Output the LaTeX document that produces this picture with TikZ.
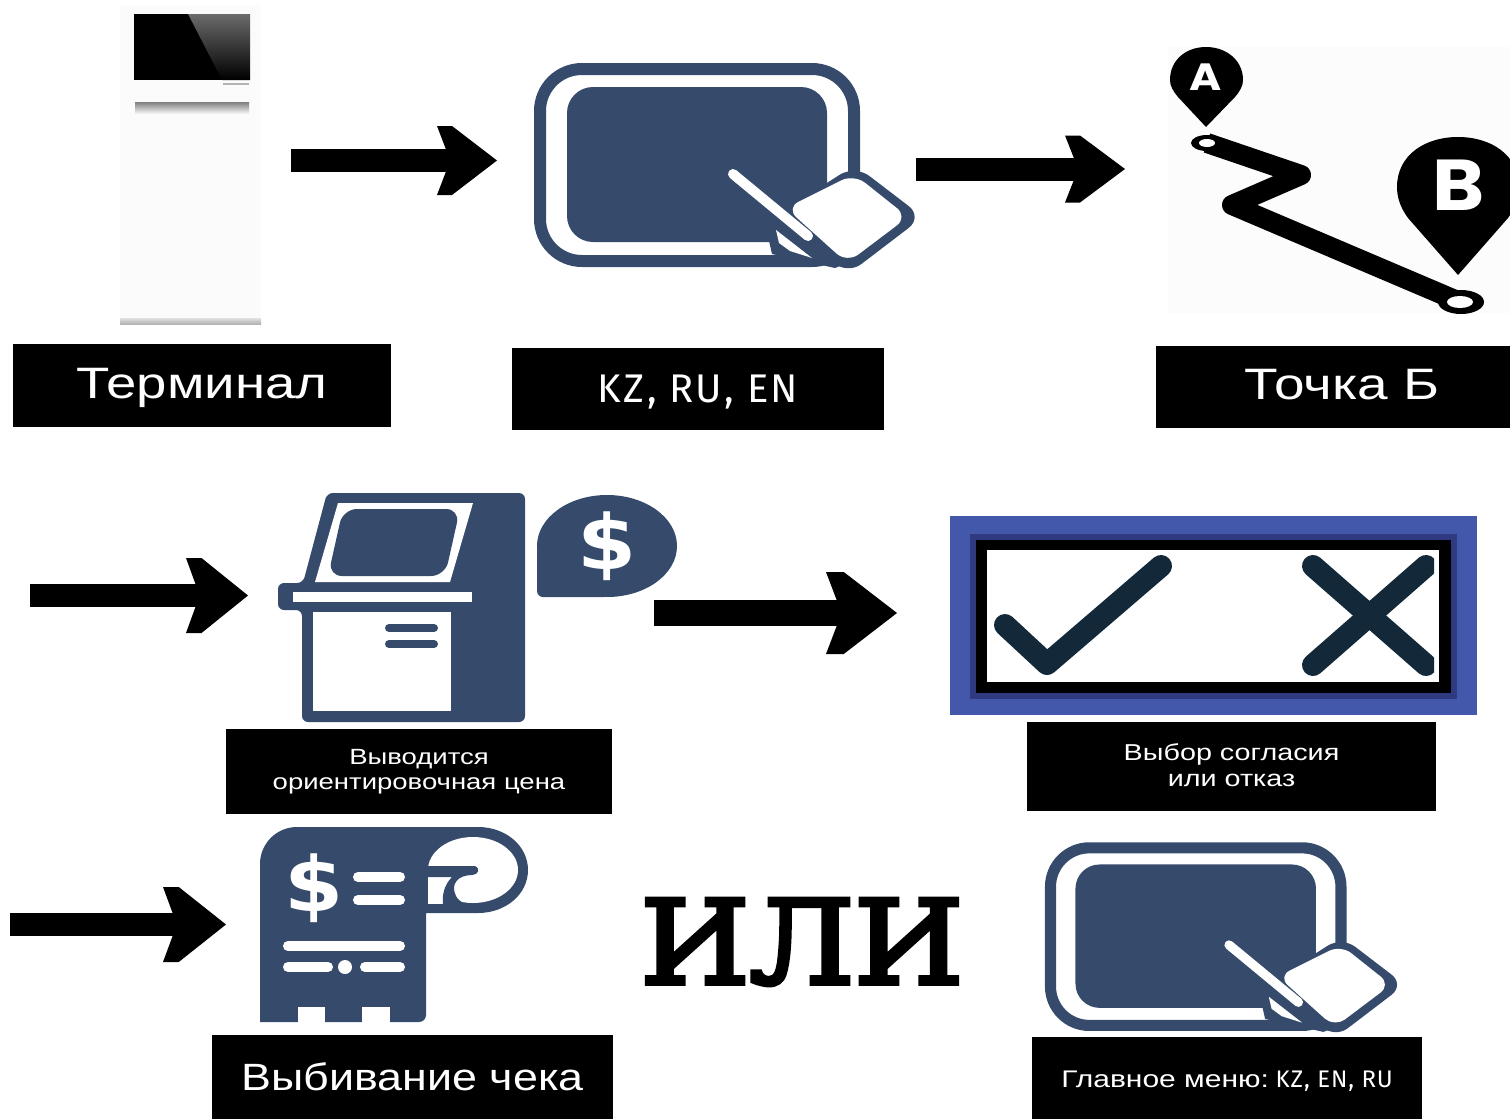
\documentclass[tikz,border=0pt]{standalone}
\usepackage{fontspec}
\usepackage{graphicx}
\setmainfont{Liberation Sans}
\newfontfamily\latinfont[LetterSpace=6]{Fira Sans}
\newfontfamily\latinsmall[LetterSpace=4]{Fira Sans}
\newfontfamily\slabfont[FakeBold=4]{DejaVu Serif}
\newfontfamily\dejabold{DejaVu Sans}
\newfontfamily\pinfont{Poppins}
\usetikzlibrary{arrows.meta}
\definecolor{navy}{HTML}{364B6B}
\definecolor{frameblue}{HTML}{4458AB}
\definecolor{framedark}{HTML}{2F3A80}
\definecolor{inkdark}{HTML}{13293A}
\newcommand{\sx}[2]{\scalebox{#1}[1]{#2}}
\newcommand{\lowertext}[2]{\raisebox{-#1}[\height][\depth]{#2}}
\pgfdeclarearrow{
  name=Chev,
  parameters={\the\pgfarrowlength,\the\pgfarrowwidth},
  setup code={
    \pgfarrowssettipend{0pt}
    \pgfarrowssetlineend{-.7\pgfarrowlength}
    \pgfarrowssetvisualbackend{-\pgfarrowlength}
    \pgfarrowssetbackend{-\pgfarrowlength}
    \pgfarrowssavethe\pgfarrowlength
    \pgfarrowssavethe\pgfarrowwidth
  },
  drawing code={
    \pgfpathmoveto{\pgfqpoint{0pt}{0pt}}
    \pgfpathlineto{\pgfpoint{-.75\pgfarrowlength}{.5\pgfarrowwidth}}
    \pgfpathlineto{\pgfpoint{-\pgfarrowlength}{.5\pgfarrowwidth}}
    \pgfpathlineto{\pgfpoint{-.78\pgfarrowlength}{0pt}}
    \pgfpathlineto{\pgfpoint{-\pgfarrowlength}{-.5\pgfarrowwidth}}
    \pgfpathlineto{\pgfpoint{-.75\pgfarrowlength}{-.5\pgfarrowwidth}}
    \pgfpathclose
    \pgfusepathqfill
  },
  defaults={length=30pt,width=34pt}
}
\tikzset{
  labelbox/.style={fill=black,text=white,inner sep=0pt,align=center,anchor=center},
  bigarrow/.style={line width=11.5pt,draw=black,-{Chev[length=30pt,width=34.5pt]}},
  iconfill/.style={fill=navy,draw=none},
  cutfill/.style={fill=white,draw=none},
}
\newcommand{\tablet}[1]{%
  \draw[navy,line width=#1*6pt,rounded corners=#1*21pt] (540,69) rectangle (854,261);
  \fill[navy,rounded corners=#1*13pt] (567,87) rectangle (827,242);
  % dark band and wedge under the stylus
  \fill[navy] (767,232) -- (790,225) -- (850,262) -- (835,268) -- (772,254) -- cycle;
  \fill[white] (776,230) -- (812,258) -- (790,251) -- (779,243) -- cycle;
  \fill[navy,rounded corners=#1*9pt] (855,165) -- (923,217) -- (847,275) -- (780,213) -- cycle;
  \fill[white,rounded corners=#1*7pt] (854,174) -- (908,217) -- (847,263) -- (786,208) -- cycle;
  \draw[white,line width=#1*5pt,line cap=round] (733,174) -- (808,236);
}
\begin{document}
\begin{tikzpicture}[x=.5pt,y=-.5pt]
\useasboundingbox (0,0) rectangle (1510,1119);
\fill[white] (0,0) rectangle (1510,1119);

% --- terminal picture
\fill[black!1.5] (120,5) rectangle (261,325);
\fill[black] (134,14) rectangle (250,80);
\shade[top color=black!58,bottom color=black] (188,14) -- (250,14) -- (250,80) -- (222,80) -- cycle;
\shade[top color=black!50,bottom color=black!2] (135,102) rectangle (249,114);
\fill[black!30] (223,83) rectangle (249,85);
\shade[top color=black!12,bottom color=black!30] (120,318) rectangle (261,324);

% --- tablet 1
\tablet{1}

% --- route map
\fill[black!1.2] (1168,47) rectangle (1510,313);
\fill[black] (1206,127) -- (1178,97) .. controls (1173,91) and (1170,86) .. (1170,80)
  .. controls (1170,60) and (1186,47) .. (1206,47)
  .. controls (1226,47) and (1243,60) .. (1243,80)
  .. controls (1243,86) and (1240,91) .. (1235,97) -- cycle;
\node[text=white,font=\fontsize{19}{19}\pinfont\bfseries,inner sep=0pt] (pina) at (1206,77) {\sx{1.15}{A}};
\draw[black,line width=10pt,line join=round] (1207,143) -- (1301,175) -- (1232,205) -- (1460,302);
\fill[black] (1207,143) ellipse [x radius=16,y radius=8];
\fill[black] (1461,302) ellipse [x radius=23,y radius=12];
\fill[white] (1207,143) ellipse [x radius=8,y radius=4];
\fill[white] (1460,302) ellipse [x radius=13,y radius=6];
\begin{scope}
\clip (1380,120) rectangle (1510,290);
\fill[black] (1458,275) -- (1408,218) .. controls (1400,207) and (1397,197) .. (1397,187)
  .. controls (1397,155) and (1425,137) .. (1458,137)
  .. controls (1491,137) and (1519,155) .. (1519,187)
  .. controls (1519,197) and (1516,207) .. (1508,218) -- cycle;
\end{scope}
\node[text=white,font=\fontsize{36}{36}\pinfont\bfseries,inner sep=0pt] (pinb) at (1459,185) {\sx{1.1}{B}};

% --- kiosk
\fill[iconfill,rounded corners=3pt] (327,493) -- (525,493) -- (525,722) -- (302,722) -- (302,610) -- (278,610) -- (278,583) -- (303,583) -- cycle;
\fill[cutfill] (338,503) -- (473,503) -- (450,582) -- (315,582) -- cycle;
\fill[iconfill,rounded corners=7pt] (343,509) -- (460,509) -- (445,576) -- (328,576) -- cycle;
\fill[cutfill] (293,592) rectangle (472,602);
\fill[cutfill] (313,612) rectangle (451,711);
\draw[navy,line width=4pt,line cap=round] (389,628) -- (434,628);
\draw[navy,line width=4pt,line cap=round] (389,644) -- (434,644);
\fill[navy] (607,546) ellipse [x radius=70,y radius=51];
\fill[navy,rounded corners=3pt] (537,546) rectangle (610,597);
\node[text=white,font=\fontsize{38}{38}\dejabold\bfseries,inner sep=0pt] (dollarone) at (607,546) {\sx{1.12}{\$}};

% --- choice frame
\fill[frameblue] (950,516) rectangle (1477,715);
\fill[framedark] (970,534) rectangle (1457,699);
\fill[black] (976,540) rectangle (1451,693);
\fill[white] (987,550) rectangle (1439,682);
\draw[inkdark,line width=11pt,line cap=round,line join=round] (1005,625) -- (1047,664) -- (1161,566);
\begin{scope}
\clip (987,550) rectangle (1434,682);
\draw[inkdark,line width=11pt,line cap=round] (1313,566) -- (1426,665);
\draw[inkdark,line width=11pt,line cap=round] (1426,566) -- (1313,665);
\end{scope}

% --- receipt
\fill[iconfill] (260,1015) -- (260,864) arc[start angle=180,end angle=270,radius=37] -- (478,827)
  .. controls (506,827) and (528,846) .. (528,870)
  .. controls (528,894) and (506,913) .. (478,913) -- (426,913) -- (426,1015)
  arc[start angle=0,end angle=90,radius=7] -- (260,1022) -- cycle;
\fill[cutfill] (298,1007) rectangle (325,1023);
\fill[cutfill] (362,1007) rectangle (390,1023);
\fill[white] (473,870) ellipse [x radius=45,y radius=33];
\fill[white] (428,875) rectangle (446,904);
\fill[navy] (426,866) -- (475,866) .. controls (481,869) and (478,875) .. (472,875)
  .. controls (458,875) and (450,884) .. (456,896) .. controls (460,903) and (466,905) .. (474,905)
  -- (443,905) .. controls (442,895) and (444,885) .. (452,877) -- (426,877) -- cycle;
\node[text=white,font=\fontsize{38}{38}\dejabold\bfseries,inner sep=0pt] (dollartwo) at (314,888) {\sx{1.12}{\$}};
\draw[white,line width=5pt,line cap=round] (358,877) -- (400,877);
\draw[white,line width=5pt,line cap=round] (358,900) -- (400,900);
\draw[white,line width=5pt,line cap=round] (288,946) -- (400,946);
\draw[white,line width=5pt,line cap=round] (288,967) -- (328,967);
\fill[white] (345,967) circle [radius=7];
\draw[white,line width=5pt,line cap=round] (365,967) -- (400,967);

% --- the word
\node[font=\fontsize{58}{58}\slabfont,inner sep=0pt,text=black] (ili) at (802,942) {\sx{1.08}{ИЛИ}};

% --- tablet 2
\begin{scope}[shift={(551,784)},scale=.925]
\tablet{.925}
\end{scope}

% --- labels
\node[labelbox,minimum width=189pt,minimum height=41.5pt] (lterm) at (202,385.5)
  {\lowertext{1pt}{\fontsize{22}{22}\selectfont\sx{1.24}{Терминал}}};
\node[labelbox,minimum width=186pt,minimum height=41pt] (llang) at (698,389)
  {\lowertext{1.5pt}{\fontsize{20}{20}\latinfont KZ, RU, EN}};
\node[labelbox,minimum width=177pt,minimum height=41pt] (lpoint) at (1333,387)
  {\hspace*{9pt}\raisebox{1pt}[\height][\depth]{\fontsize{22}{22}\selectfont\sx{1.25}{Точка Б}}};
\node[labelbox,minimum width=193pt,minimum height=42.5pt] (lprice) at (419,771.5)
  {\fontsize{11}{12.5}\selectfont\sx{1.25}{\begin{tabular}{@{}c@{}}Выводится\\ориентировочная цена\end{tabular}}};
\node[labelbox,minimum width=204.5pt,minimum height=44.5pt] (lchoice) at (1231.5,766.5)
  {\lowertext{1pt}{\fontsize{11.5}{13}\selectfont\sx{1.25}{\begin{tabular}{@{}c@{}}Выбор согласия\\или отказ\end{tabular}}}};
\node[labelbox,minimum width=200.5pt,minimum height=42pt] (lcheck) at (412.5,1077)
  {\fontsize{19}{19}\selectfont\sx{1.18}{Выбивание чека}};
\node[labelbox,minimum width=195pt,minimum height=41pt] (lmenu) at (1227,1078)
  {\lowertext{1.5pt}{\fontsize{12}{12}\selectfont\sx{1.25}{Главное меню:} {\latinsmall KZ, EN, RU}}};

% --- connectors
\coordinate (aonestart) at (291,160.5);
\coordinate (aoneend) at (497,160.5);
\coordinate (atwostart) at (916,169);
\coordinate (atwoend) at (1125,169);
\coordinate (athreestart) at (30,595.5);
\coordinate (athreeend) at (248,595.5);
\coordinate (afourstart) at (654,613);
\coordinate (afourend) at (897,613);
\coordinate (afivestart) at (10,924.5);
\coordinate (afiveend) at (226,924.5);
\draw[bigarrow] (aonestart) -- (aoneend);
\draw[bigarrow,-{Chev[length=30pt,width=33.5pt]}] (atwostart) -- (atwoend);
\draw[bigarrow,-{Chev[length=31pt,width=37.5pt]}] (athreestart) -- (athreeend);
\draw[bigarrow,line width=13pt,-{Chev[length=35.5pt,width=41pt]}] (afourstart) -- (afourend);
\draw[bigarrow,-{Chev[length=31.5pt,width=37.5pt]}] (afivestart) -- (afiveend);
\end{tikzpicture}
\end{document}
